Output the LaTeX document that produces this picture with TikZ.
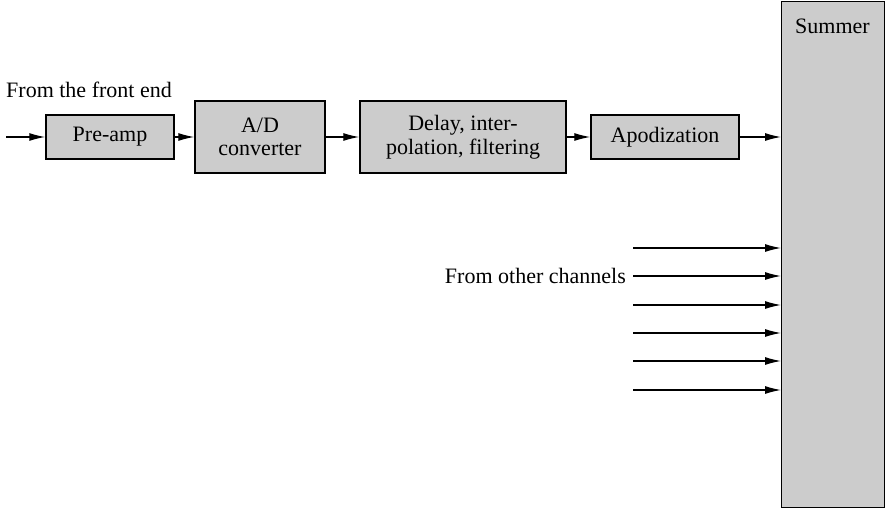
\documentclass[tikz,border=0pt]{standalone}
\usepackage{fontspec}
\setmainfont{Liberation Serif}
\usetikzlibrary{arrows.meta}
\begin{document}
\begin{tikzpicture}[x=1pt,y=-1pt,
  blk/.style={draw=black,line width=1.4pt,fill=black!20,inner sep=0pt,align=center,
    font=\fontsize{22}{23.5}\selectfont},
  lbl/.style={inner sep=0pt,font=\fontsize{22}{23.5}\selectfont},
  arr/.style={line width=1.2pt,-{Latex[length=16pt,width=8pt]}}]
\useasboundingbox (0,0) rectangle (885,508);
\node[blk,minimum width=128,minimum height=44] (pre) at (110,137) {Pre-amp};
\node[blk,minimum width=130,minimum height=72] (ad) at (260,137) {A/D\\converter};
\node[blk,minimum width=206,minimum height=72] (del) at (463,137) {Delay, inter-\\polation, filtering};
\node[blk,minimum width=148,minimum height=44] (apo) at (665,137) {Apodization};
\node[blk,minimum width=103,minimum height=506,anchor=north west] (sum) at (781,1) {};
\node[lbl,anchor=base] (sumtxt) at (832.5,34) {Summer};
\coordinate (in) at (6,137);
\node[lbl,anchor=base west] (fte) at (6,98) {From the front end};
\draw[arr] (in) -- (pre);
\draw[arr] (pre) -- (ad);
\draw[arr] (ad) -- (del);
\draw[arr] (del) -- (apo);
\draw[arr] (apo.east) -- (apo.east -| sum.west);
\foreach \i/\y in {1/248,2/276,3/305,4/333,5/361,6/390}{
  \coordinate (o\i) at (633,\y);
  \draw[arr] (o\i) -- (o\i -| sum.west);
}
\node[lbl,anchor=east] (other) at ([xshift=-7pt]o2) {From other channels};
\end{tikzpicture}
\end{document}
